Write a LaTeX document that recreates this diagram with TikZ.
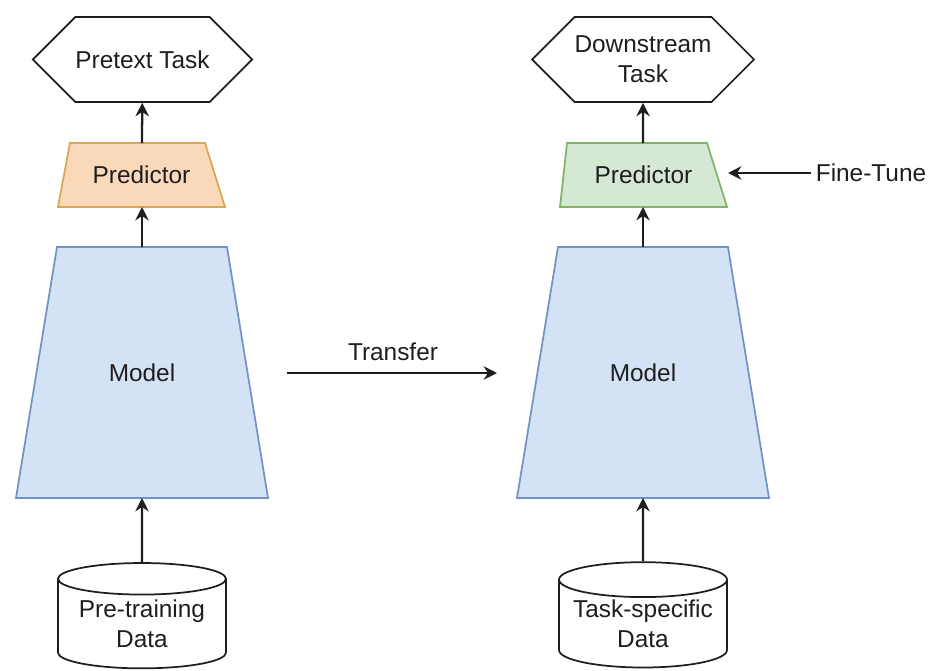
\documentclass[tikz,border=0pt]{standalone}
\usepackage{fontspec}
\setmainfont{Liberation Sans}
\usetikzlibrary{shapes.geometric,shapes.symbols,arrows.meta}

\definecolor{txtcol}{HTML}{1E1E1E}
\definecolor{predfill}{HTML}{FAD9BA}
\definecolor{preddraw}{HTML}{D8A752}
\definecolor{tunefill}{HTML}{D5E8D4}
\definecolor{tunedraw}{HTML}{82B366}
\definecolor{modelfill}{HTML}{D4E2F6}
\definecolor{modeldraw}{HTML}{7393C2}

\newcommand{\lblfont}{\fontsize{18.3}{22.5}\selectfont}

\tikzset{
  task/.style={signal, signal to=east and west, signal pointer angle=90,
    draw=txtcol, fill=white, line width=1.3pt, minimum width=152pt,
    minimum height=63.75pt, inner sep=0pt, align=center},
  trap/.style={line width=1.3pt, line join=miter},
  data/.style={cylinder, shape border rotate=90, aspect=0.25,
    draw=txtcol, fill=white, line width=1.3pt, minimum width=126pt,
    minimum height=79pt, inner sep=0pt, align=center},
  flow/.style={-{Stealth[length=10pt,width=10pt]}, line width=1.7pt, draw=txtcol},
}

\begin{document}
\begin{tikzpicture}[x=0.75pt,y=-0.75pt,font=\lblfont,text=txtcol]
  \useasboundingbox (0,0) rectangle (929,671);

  % pre-training side
  \node[task] (pretext) at (142.5,59.5) {Pretext Task};
  \draw[trap, fill=predfill, draw=preddraw] (70,143) -- (205,143) -- (225,207) -- (58,207) -- cycle;
  \node (pred1) at (141.5,175) {Predictor};
  \coordinate (pred1top) at (142,143);
  \coordinate (pred1bot) at (142,207);
  \draw[trap, fill=modelfill, draw=modeldraw] (57,247) -- (227,247) -- (268,498) -- (16,498) -- cycle;
  \node (model1) at (142,372.5) {Model};
  \coordinate (model1top) at (142,247);
  \coordinate (model1bot) at (142,498);
  \node[data] (data1) at (142,624) {Pre-training\\Data};

  % downstream side
  \node[task] (downstream) at (643,59.5) {Downstream\\Task};
  \draw[trap, fill=tunefill, draw=tunedraw] (567,143) -- (707,143) -- (727,207) -- (560,207) -- cycle;
  \node (pred2) at (643.5,175) {Predictor};
  \coordinate (pred2top) at (643,143);
  \coordinate (pred2bot) at (643,207);
  \coordinate (pred2side) at (728,173);
  \draw[trap, fill=modelfill, draw=modeldraw] (558,247) -- (728,247) -- (769,498) -- (517,498) -- cycle;
  \node (model2) at (643,372.5) {Model};
  \coordinate (model2top) at (643,247);
  \coordinate (model2bot) at (643,498);
  \node[data] (data2) at (643,624) {Task-specific\\Data};

  \node (finetune) at (871,173) {Fine-Tune};
  \node (transfer) at (393,352) {Transfer};
  \coordinate (tstart) at (287,373);
  \coordinate (tend) at (497,373);

  \draw[flow] (pred1top) -- (pretext);
  \draw[flow] (model1top) -- (pred1bot);
  \draw[flow] (data1.north) -- (model1bot);
  \draw[flow] (pred2top) -- (downstream);
  \draw[flow] (model2top) -- (pred2bot);
  \draw[flow] (data2.north) -- (model2bot);
  \draw[flow] (tstart) -- (tend);
  \draw[flow] (finetune.west) -- (pred2side);
\end{tikzpicture}
\end{document}
